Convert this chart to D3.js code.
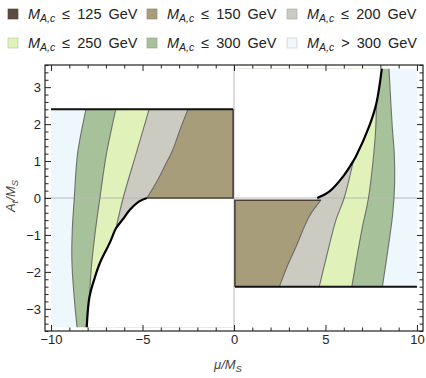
<!DOCTYPE html>
<html>
<head>
<meta charset="utf-8">
<script src="https://cdn.jsdelivr.net/npm/d3@7"></script>
<style>
body { margin: 0; background: #fff; }
text { font-family: "Liberation Sans", Arial, sans-serif; }
</style>
</head>
<body>
<svg width="426" height="378"></svg>
<script>
// legend
var legendLimits = [125, 150, 200, 250, 300, 300];
var legendOps = ["≤", "≤", "≤", "≤", "≤", ">"];
var legendColors = ["#5c4c44", "#a89d7b", "#cbcbc2", "#e0f1b9", "#a7c29b", "#eef7fb"];

// ticks
var xMajor = [-10, -5, 0, 5, 10];
var yMajor = [-3, -2, -1, 0, 1, 2, 3];

// region boundaries, points are [mu/M_S, A_t/M_S]
// mu < 0 side
var edge300L = [[-8.09, 2.4], [-8.55, 1.2], [-8.73, 0], [-8.84, -0.87], [-8.86, -1.7], [-8.75, -2.6], [-8.58, -3.5]];
var edge250L = [[-6.46, 2.4], [-6.97, 1.2], [-7.33, 0], [-7.58, -0.9], [-7.8, -1.9], [-7.9, -2.68]];
var edge200L = [[-4.64, 2.4], [-5.35, 1.2], [-6.06, 0], [-6.45, -0.82]];
var edge150L = [[-2.52, 2.4], [-2.95, 1.85], [-3.35, 1.3], [-3.75, 0.9], [-4.17, 0.49], [-4.76, 0]];
var cutL = [[-4.76, 0], [-5.2, -0.1], [-5.69, -0.32], [-6.08, -0.58], [-6.45, -0.82], [-6.78, -1.2], [-7.33, -1.76], [-7.6, -2.14], [-7.9, -2.68], [-8.05, -3.5]];
// mu > 0 side
var edge300R = [[8.11, -2.4], [8.47, -1.2], [8.68, -0.4], [8.78, 0.4], [8.76, 1.2], [8.65, 1.93], [8.47, 3.5]];
var edge250R = [[6.44, -2.4], [6.75, -1.5], [7.02, -0.78], [7.35, 0], [7.6, 1], [7.75, 1.93], [7.78, 2.56]];
var edge200R = [[4.66, -2.4], [5.1, -1.5], [5.57, -0.6], [6.02, 0], [6.52, 1.0]];
var edge150R = [[2.48, -2.4], [2.95, -1.8], [3.39, -1.32], [4.11, -0.5], [4.75, -0.06]];
var cutR = [[4.55, 0], [5.2, 0.17], [6.02, 0.62], [6.52, 1.0], [6.66, 1.12], [7.38, 1.93], [7.78, 2.56], [8.08, 3.5]];

// extents of the scanned area
var muMin = -10, muMax = 10;
var aTop = 2.4, aBottom = -3.5;      // left half
var aTopR = 3.5, aBottomR = -2.4;    // right half
var boxL = [-0.05, 0];   // inner corner of left box
var boxR = [0.05, -0.06]; // inner corner of right box

var svg = d3.select("svg");
var x = d3.scaleLinear().domain([-10.33, 10.33]).range([45, 423]);
var y = d3.scaleLinear().domain([-3.6, 3.6]).range([331, 65]);

var smooth = d3.line().x(d => x(d[0])).y(d => y(d[1])).curve(d3.curveCatmullRom.alpha(0.5));
function region(curve, corners) {
  return smooth(curve) + corners.map(p => "L" + x(p[0]) + "," + y(p[1])).join("") + "Z";
}
function last(a) { return a[a.length - 1]; }

var plot = svg.append("g");
var cBlue = legendColors[5], cGreen = legendColors[4], cYellow = legendColors[3],
    cGray = legendColors[2], cBrown = legendColors[1];

// left half, painted back to front
plot.append("path").attr("fill", cBlue)
  .attr("d", region([[muMin, aTop], [muMin, aBottom]], [[boxL[0], aBottom], [boxL[0], aTop]]));
plot.append("path").attr("fill", cGreen)
  .attr("d", region(edge300L, [[boxL[0], aBottom], [boxL[0], aTop]]));
plot.append("path").attr("fill", cYellow)
  .attr("d", region(edge250L, [[last(edge250L)[0], aBottom], [boxL[0], aBottom], [boxL[0], aTop]]));
plot.append("path").attr("fill", cGray)
  .attr("d", region(edge200L, [[last(edge200L)[0], aBottom], [boxL[0], aBottom], [boxL[0], aTop]]));
plot.append("path").attr("fill", cBrown)
  .attr("d", region(edge150L, [[boxL[0], boxL[1]], [boxL[0], aTop]]));
plot.append("path").attr("fill", "#fff")
  .attr("d", region(cutL, [[0, aBottom], [0, 0]]));

// right half
plot.append("path").attr("fill", cBlue)
  .attr("d", region([[muMax, aBottomR], [muMax, aTopR]], [[boxR[0], aTopR], [boxR[0], aBottomR]]));
plot.append("path").attr("fill", cGreen)
  .attr("d", region(edge300R, [[boxR[0], aTopR], [boxR[0], aBottomR]]));
plot.append("path").attr("fill", cYellow)
  .attr("d", region(edge250R, [[last(edge250R)[0], aTopR], [boxR[0], aTopR], [boxR[0], aBottomR]]));
plot.append("path").attr("fill", cGray)
  .attr("d", region(edge200R, [[last(edge200R)[0], aTopR], [boxR[0], aTopR], [boxR[0], aBottomR]]));
plot.append("path").attr("fill", cBrown)
  .attr("d", region(edge150R, [[boxR[0], boxR[1]], [boxR[0], aBottomR]]));
plot.append("path").attr("fill", "#fff")
  .attr("d", region(cutR, [[0, aTopR], [0, boxR[1]], [cutR[0][0], boxR[1]]]));

// axes through the origin
plot.append("line").attr("x1", x(0)).attr("x2", x(0)).attr("y1", 65).attr("y2", 331)
  .attr("stroke", "#b8b8b8").attr("stroke-width", 1);
plot.append("line").attr("x1", 45).attr("x2", 423).attr("y1", y(0)).attr("y2", y(0))
  .attr("stroke", "#b8b8b8").attr("stroke-width", 1);

// band edges
[edge300L, edge250L, edge200L, edge150L, edge300R, edge250R, edge200R, edge150R].forEach(c => {
  plot.append("path").attr("d", smooth(c)).attr("fill", "none")
    .attr("stroke", "#5e5e5e").attr("stroke-width", 1.1).attr("stroke-opacity", 0.85);
});
// box edges
var boxLine = d3.line().x(d => x(d[0])).y(d => y(d[1]));
plot.append("path").attr("fill", "none").attr("stroke", "#4a4036").attr("stroke-width", 1.6)
  .attr("d", boxLine([[last(edge150L)[0], boxL[1]], [boxL[0], boxL[1]], [boxL[0], aTop]]));
plot.append("path").attr("fill", "none").attr("stroke", "#4a4036").attr("stroke-width", 1.6)
  .attr("d", boxLine([[last(edge150R)[0], boxR[1]], [boxR[0], boxR[1]], [boxR[0], aBottomR]]));
// black outer limits
plot.append("path").attr("fill", "none").attr("stroke", "#111").attr("stroke-width", 2)
  .attr("d", boxLine([[muMin, aTop], [boxL[0], aTop]]));
plot.append("path").attr("fill", "none").attr("stroke", "#111").attr("stroke-width", 2)
  .attr("d", boxLine([[boxR[0], aBottomR], [muMax, aBottomR]]));
[cutL, cutR].forEach(c => {
  plot.append("path").attr("d", smooth(c)).attr("fill", "none")
    .attr("stroke", "#000").attr("stroke-width", 2.2);
});

// frame and ticks
var xMinor = d3.range(-10, 11, 1).filter(v => xMajor.indexOf(v) < 0);
var yMinor = d3.range(-3.6, 3.61, 0.2).map(v => Math.round(v * 10) / 10).filter(v => yMajor.indexOf(v) < 0);
var fmt = d => d < 0 ? "\u2212" + Math.abs(d) : String(d);

function frameAxis(gen, tr, vals, size, labels) {
  var g = svg.append("g").attr("transform", tr)
    .call(gen.tickValues(vals).tickSize(size).tickPadding(4).tickFormat(labels ? fmt : ""));
  g.select(".domain").remove();
  g.selectAll("line").attr("stroke", "#222");
  g.selectAll("text").attr("font-size", 13).attr("fill", "#222").attr("font-family", null);
  return g;
}
frameAxis(d3.axisBottom(x), "translate(0,331)", xMajor, -6, true);
frameAxis(d3.axisBottom(x), "translate(0,331)", xMinor, -3.5, false);
frameAxis(d3.axisTop(x), "translate(0,65)", xMajor, -6, false);
frameAxis(d3.axisTop(x), "translate(0,65)", xMinor, -3.5, false);
frameAxis(d3.axisLeft(y), "translate(45,0)", yMajor, -6, true);
frameAxis(d3.axisLeft(y), "translate(45,0)", yMinor, -3.5, false);
frameAxis(d3.axisRight(y), "translate(423,0)", yMajor, -6, false);
frameAxis(d3.axisRight(y), "translate(423,0)", yMinor, -3.5, false);
svg.append("rect").attr("x", 45).attr("y", 65).attr("width", 378).attr("height", 266)
  .attr("fill", "none").attr("stroke", "#222").attr("stroke-width", 1.2);

// axis titles
var xt = svg.append("text").attr("x", 228).attr("y", 369).attr("text-anchor", "middle")
  .attr("font-size", 13).attr("fill", "#444").attr("font-style", "italic");
xt.append("tspan").text("\u03bc/M");
xt.append("tspan").attr("font-size", 9.5).attr("dy", 3).text("S");
var yt = svg.append("text").attr("transform", "translate(15,196) rotate(-90)").attr("text-anchor", "middle")
  .attr("font-size", 13).attr("fill", "#444").attr("font-style", "italic");
yt.append("tspan").text("A");
yt.append("tspan").attr("font-size", 9.5).attr("dy", 3).text("t");
yt.append("tspan").attr("dy", -3).text("/M");
yt.append("tspan").attr("font-size", 9.5).attr("dy", 3).text("S");

// legend
var colX = [8, 147, 287], rowY = [14, 43];
legendLimits.forEach((v, i) => {
  var cx = colX[i % 3], cy = rowY[Math.floor(i / 3)];
  svg.append("rect").attr("x", cx).attr("y", cy - 5).attr("width", 10).attr("height", 10)
    .attr("fill", legendColors[i]).attr("stroke", d3.color(legendColors[i]).darker(0.6)).attr("stroke-width", 0.6);
  var t = svg.append("text").attr("x", cx + 20).attr("y", cy + 5).attr("font-size", 14.5)
    .attr("word-spacing", 3).attr("fill", "#222");
  t.append("tspan").attr("font-style", "italic").text("M");
  t.append("tspan").attr("font-style", "italic").attr("font-size", 10.5).attr("dy", 3).text("A,c");
  t.append("tspan").attr("dy", -3).text(" " + legendOps[i] + " " + v + " GeV");
});
</script>
</body>
</html>
